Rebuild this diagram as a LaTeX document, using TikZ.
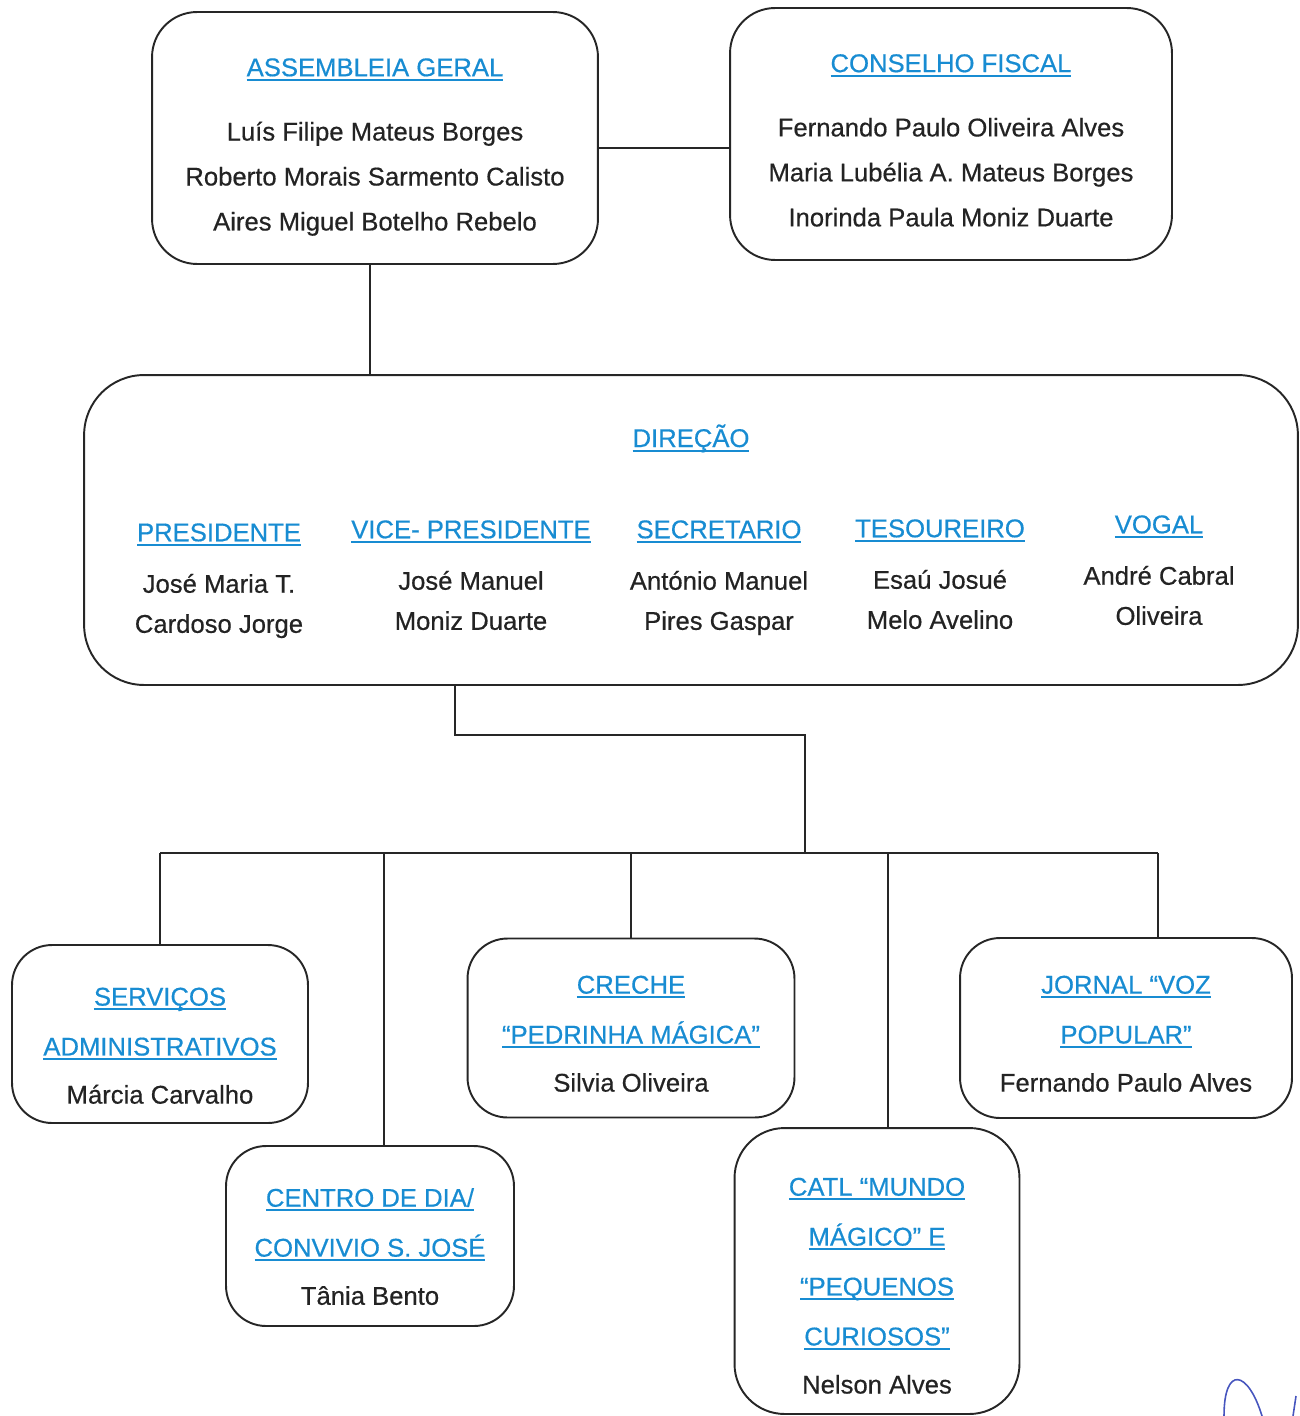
\documentclass[tikz,border=0pt]{standalone}
\usepackage{fontspec}
\setmainfont[FakeBold=0.5]{Liberation Sans}
\definecolor{titleblue}{RGB}{24,140,210}
\definecolor{namegray}{RGB}{35,35,35}
\definecolor{signblue}{RGB}{70,85,190}
% blue underlined heading
\newcommand{\ttl}[1]{{\color{titleblue}\setbox0\hbox{#1}\rlap{\rule[-2.6pt]{\wd0}{1.1pt}}\box0}}
% extra room above the first line
\newcommand{\topstrut}[1]{\rule{0pt}{#1}}
\tikzset{
	orgbox/.style={draw=black!85,line width=1.1pt,rounded corners=.8cm,
		align=center,text=namegray,inner sep=0pt},
	link/.style={draw=black!85,line width=.85pt},
	smallfont/.style={font=\fontsize{14.6}{28.4}\selectfont}
}
\begin{document}
\begin{tikzpicture}[x=.02cm,y=-.02cm]
	\useasboundingbox (0,0) rectangle (1299,1416);
	
	% top row
	\node[orgbox,rounded corners=.9cm,minimum width=8.92cm,minimum 
	height=5.04cm,font=\fontsize{14.6}{25.6}\selectfont] (assembleia) at 
	(375,138) {\topstrut{20.5pt}\ttl{ASSEMBLEIA GERAL}\\[11pt] Luís Filipe Mateus Borges\\ 
	Roberto Morais Sarmento Calisto\\ Aires Miguel Botelho Rebelo};
	
	\node[orgbox,rounded corners=.9cm,minimum width=8.84cm,minimum 
	height=5.04cm,font=\fontsize{14.6}{25.6}\selectfont] (conselho) at 
	(951,134) {\topstrut{17.5pt}\ttl{CONSELHO FISCAL}\\[11pt] Fernando Paulo Oliveira Alves\\ 
	Maria Lubélia A. Mateus Borges\\ Inorinda Paula Moniz Duarte};
	
	% direcao
	\node[orgbox,rounded corners=1.2cm,minimum width=24.28cm,minimum 
	height=6.2cm] (direcao) at (691,530) {};
	\node[font=\fontsize{14.6}{25.6}\selectfont,anchor=base,inner sep=0pt] 
	(dirtitle) at (691,447) {\ttl{DIREÇÃO}};
	\foreach \x/\y/\role/\na/\nb [count=\i] in {
		219/523/PRESIDENTE/José Maria T./Cardoso Jorge,
		471/520/VICE- PRESIDENTE/José Manuel/Moniz Duarte,
		719/520/SECRETARIO/António Manuel/Pires Gaspar,
		940/519/TESOUREIRO/Esaú Josué/Melo Avelino,
		1159/515/VOGAL/André Cabral/Oliveira}
	\node[font=\fontsize{14.6}{22.8}\selectfont,align=center,text=namegray,
	anchor=north,inner sep=0pt] (role\i) at (\x,\y) 
	{\ttl{\role}\\[6.5pt] \na\\ \nb};
	
	% services
	\node[orgbox,smallfont,minimum width=5.92cm,minimum height=3.56cm] 
	(servicos) at (160,1034) {\topstrut{23.6pt}\ttl{SERVIÇOS}\\ \ttl{ADMINISTRATIVOS}\\[-1pt] 
	Márcia Carvalho};
	\node[orgbox,smallfont,minimum width=5.76cm,minimum height=3.6cm] 
	(centro) at (370,1236) {\topstrut{22.6pt}\ttl{CENTRO DE DIA/}\\ \ttl{CONVIVIO S. JOSÉ}\\[-1pt] 
	Tânia Bento};
	\node[orgbox,smallfont,minimum width=6.54cm,minimum height=3.58cm] 
	(creche) at (631,1028) {\topstrut{16.8pt}\ttl{CRECHE}\\ \ttl{“PEDRINHA MÁGICA”}\\[-1pt] 
	Silvia Oliveira};
	\node[orgbox,smallfont,rounded corners=1cm,minimum width=5.7cm,minimum 
	height=5.72cm] (catl) at (877,1271) {\topstrut{27pt}\ttl{CATL “MUNDO}\\ \ttl{MÁGICO” E}\\ 
	\ttl{“PEQUENOS}\\ \ttl{CURIOSOS”}\\[-1pt] Nelson Alves};
	\node[orgbox,smallfont,minimum width=6.64cm,minimum height=3.6cm] 
	(jornal) at (1126,1028) {\topstrut{16.8pt}\ttl{JORNAL “VOZ}\\ \ttl{POPULAR”}\\[-1pt] 
	Fernando Paulo Alves};
	
	% connectors
	\draw[link] ([yshift=-.2cm]assembleia.east) -- ([yshift=-.2cm]assembleia.east 
	-| conselho.west);
	\draw[link] ([xshift=-.1cm]assembleia.south) -- ([xshift=-.1cm]assembleia.south 
	|- direcao.north);
	\coordinate (elbow) at (805,735);
	\coordinate (busL) at (160,853);
	\coordinate (busR) at (1158,853);
	\draw[link] ([xshift=-4.72cm]direcao.south) |- (elbow) -- (elbow |- busL);
	\draw[link] (busL) -- (busR);
	\foreach \b/\dx in {servicos/0,centro/.28,creche/0,catl/.22,jornal/.64}
	\draw[link] ([xshift=\dx cm]\b.north) -- ([xshift=\dx cm]\b.north |- busL);
	
	% signature fragment
	\draw[signblue,line width=.9pt] (1224,1416) .. controls (1224,1365) and 
	(1248,1370) .. (1262,1416);
	\draw[signblue,line width=.9pt] (1293,1416) -- (1296,1396);
\end{tikzpicture}
\end{document}
